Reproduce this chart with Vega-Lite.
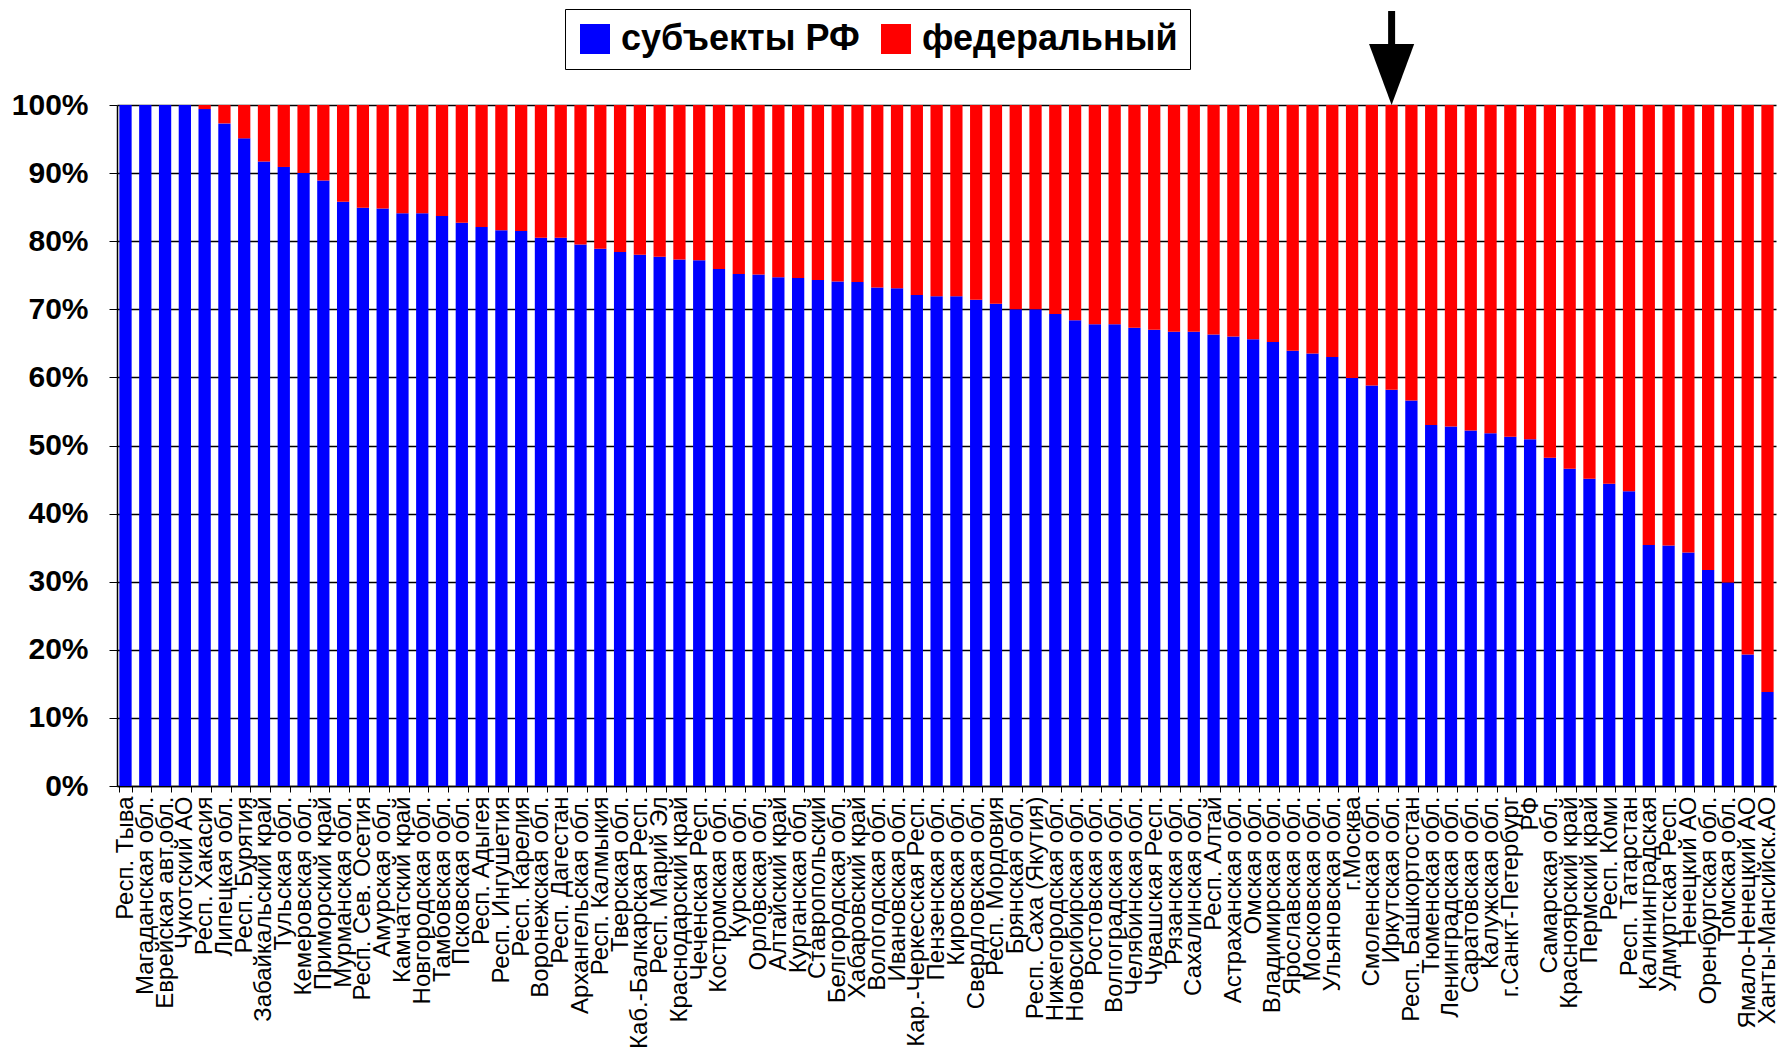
{
  "$schema": "https://vega.github.io/schema/vega-lite/v6.json",
  "width": 1659,
  "height": 681,
  "autosize": {"type": "none"},
  "padding": {"left": 117, "top": 105, "right": 5, "bottom": 276},
  "background": "white",
  "config": {
    "view": {"stroke": null},
    "font": "Liberation Sans"
  },
  "datasets": {
    "regions": [
      {"регион": "Респ. Тыва", "субъекты РФ": 100, "федеральный": 0},
      {"регион": "Магаданская обл.", "субъекты РФ": 100, "федеральный": 0},
      {"регион": "Еврейская авт.обл.", "субъекты РФ": 100, "федеральный": 0},
      {"регион": "Чукотский АО", "субъекты РФ": 100, "федеральный": 0},
      {"регион": "Респ. Хакасия", "субъекты РФ": 99.4, "федеральный": 0.6},
      {"регион": "Липецкая обл.", "субъекты РФ": 97.3, "федеральный": 2.7},
      {"регион": "Респ. Бурятия", "субъекты РФ": 95.1, "федеральный": 4.9},
      {"регион": "Забайкальский край", "субъекты РФ": 91.7, "федеральный": 8.3},
      {"регион": "Тульская обл.", "субъекты РФ": 90.9, "федеральный": 9.1},
      {"регион": "Кемеровская обл.", "субъекты РФ": 90.0, "федеральный": 10.0},
      {"регион": "Приморский край", "субъекты РФ": 88.9, "федеральный": 11.1},
      {"регион": "Мурманская обл.", "субъекты РФ": 85.8, "федеральный": 14.2},
      {"регион": "Респ. Сев. Осетия", "субъекты РФ": 84.9, "федеральный": 15.1},
      {"регион": "Амурская обл.", "субъекты РФ": 84.8, "федеральный": 15.2},
      {"регион": "Камчатский край", "субъекты РФ": 84.1, "федеральный": 15.9},
      {"регион": "Новгородская обл.", "субъекты РФ": 84.1, "федеральный": 15.9},
      {"регион": "Тамбовская обл.", "субъекты РФ": 83.7, "федеральный": 16.3},
      {"регион": "Псковская обл.", "субъекты РФ": 82.7, "федеральный": 17.3},
      {"регион": "Респ. Адыгея", "субъекты РФ": 82.1, "федеральный": 17.9},
      {"регион": "Респ. Ингушетия", "субъекты РФ": 81.6, "федеральный": 18.4},
      {"регион": "Респ. Карелия", "субъекты РФ": 81.5, "федеральный": 18.5},
      {"регион": "Воронежская обл.", "субъекты РФ": 80.5, "федеральный": 19.5},
      {"регион": "Респ. Дагестан", "субъекты РФ": 80.5, "федеральный": 19.5},
      {"регион": "Архангельская обл.", "субъекты РФ": 79.5, "федеральный": 20.5},
      {"регион": "Респ. Калмыкия", "субъекты РФ": 78.9, "федеральный": 21.1},
      {"регион": "Тверская обл.", "субъекты РФ": 78.4, "федеральный": 21.6},
      {"регион": "Каб.-Балкарская Респ.", "субъекты РФ": 78.0, "федеральный": 22.0},
      {"регион": "Респ. Марий Эл", "субъекты РФ": 77.7, "федеральный": 22.3},
      {"регион": "Краснодарский край", "субъекты РФ": 77.3, "федеральный": 22.7},
      {"регион": "Чеченская Респ.", "субъекты РФ": 77.2, "федеральный": 22.8},
      {"регион": "Костромская обл.", "субъекты РФ": 75.9, "федеральный": 24.1},
      {"регион": "Курская обл.", "субъекты РФ": 75.2, "федеральный": 24.8},
      {"регион": "Орловская обл.", "субъекты РФ": 75.1, "федеральный": 24.9},
      {"регион": "Алтайский край", "субъекты РФ": 74.7, "федеральный": 25.3},
      {"регион": "Курганская обл.", "субъекты РФ": 74.6, "федеральный": 25.4},
      {"регион": "Ставропольский", "субъекты РФ": 74.3, "федеральный": 25.7},
      {"регион": "Белгородская обл.", "субъекты РФ": 74.1, "федеральный": 25.9},
      {"регион": "Хабаровский край", "субъекты РФ": 74.0, "федеральный": 26.0},
      {"регион": "Вологодская обл.", "субъекты РФ": 73.2, "федеральный": 26.8},
      {"регион": "Ивановская обл.", "субъекты РФ": 73.1, "федеральный": 26.9},
      {"регион": "Кар.-Черкесская Респ.", "субъекты РФ": 72.1, "федеральный": 27.9},
      {"регион": "Пензенская обл.", "субъекты РФ": 71.9, "федеральный": 28.1},
      {"регион": "Кировская обл.", "субъекты РФ": 71.9, "федеральный": 28.1},
      {"регион": "Свердловская обл.", "субъекты РФ": 71.4, "федеральный": 28.6},
      {"регион": "Респ. Мордовия", "субъекты РФ": 70.8, "федеральный": 29.2},
      {"регион": "Брянская обл.", "субъекты РФ": 70.0, "федеральный": 30.0},
      {"регион": "Респ. Саха (Якутия)", "субъекты РФ": 70.0, "федеральный": 30.0},
      {"регион": "Нижегородская обл.", "субъекты РФ": 69.3, "федеральный": 30.7},
      {"регион": "Новосибирская обл.", "субъекты РФ": 68.4, "федеральный": 31.6},
      {"регион": "Ростовская обл.", "субъекты РФ": 67.8, "федеральный": 32.2},
      {"регион": "Волгоградская обл.", "субъекты РФ": 67.8, "федеральный": 32.2},
      {"регион": "Челябинская обл.", "субъекты РФ": 67.3, "федеральный": 32.7},
      {"регион": "Чувашская Респ.", "субъекты РФ": 67.0, "федеральный": 33.0},
      {"регион": "Рязанская обл.", "субъекты РФ": 66.7, "федеральный": 33.3},
      {"регион": "Сахалинская обл.", "субъекты РФ": 66.7, "федеральный": 33.3},
      {"регион": "Респ. Алтай", "субъекты РФ": 66.3, "федеральный": 33.7},
      {"регион": "Астраханская обл.", "субъекты РФ": 66.0, "федеральный": 34.0},
      {"регион": "Омская обл.", "субъекты РФ": 65.6, "федеральный": 34.4},
      {"регион": "Владимирская обл.", "субъекты РФ": 65.2, "федеральный": 34.8},
      {"регион": "Ярославская обл.", "субъекты РФ": 63.9, "федеральный": 36.1},
      {"регион": "Московская обл.", "субъекты РФ": 63.5, "федеральный": 36.5},
      {"регион": "Ульяновская обл.", "субъекты РФ": 63.0, "федеральный": 37.0},
      {"регион": "г.Москва", "субъекты РФ": 59.9, "федеральный": 40.1},
      {"регион": "Смоленская обл.", "субъекты РФ": 58.8, "федеральный": 41.2},
      {"регион": "Иркутская обл.", "субъекты РФ": 58.2, "федеральный": 41.8},
      {"регион": "Респ. Башкортостан", "субъекты РФ": 56.6, "федеральный": 43.4},
      {"регион": "Тюменская обл.", "субъекты РФ": 53.0, "федеральный": 47.0},
      {"регион": "Ленинградская обл.", "субъекты РФ": 52.8, "федеральный": 47.2},
      {"регион": "Саратовская обл.", "субъекты РФ": 52.2, "федеральный": 47.8},
      {"регион": "Калужская обл.", "субъекты РФ": 51.8, "федеральный": 48.2},
      {"регион": "г.Санкт-Петербург", "субъекты РФ": 51.3, "федеральный": 48.7},
      {"регион": "РФ", "субъекты РФ": 50.9, "федеральный": 49.1},
      {"регион": "Самарская обл.", "субъекты РФ": 48.2, "федеральный": 51.8},
      {"регион": "Красноярский край", "субъекты РФ": 46.6, "федеральный": 53.4},
      {"регион": "Пермский край", "субъекты РФ": 45.1, "федеральный": 54.9},
      {"регион": "Респ. Коми", "субъекты РФ": 44.4, "федеральный": 55.6},
      {"регион": "Респ. Татарстан", "субъекты РФ": 43.3, "федеральный": 56.7},
      {"регион": "Калининградская", "субъекты РФ": 35.4, "федеральный": 64.6},
      {"регион": "Удмуртская Респ.", "субъекты РФ": 35.3, "федеральный": 64.7},
      {"регион": "Ненецкий АО", "субъекты РФ": 34.3, "федеральный": 65.7},
      {"регион": "Оренбургская обл.", "субъекты РФ": 31.7, "федеральный": 68.3},
      {"регион": "Томская обл.", "субъекты РФ": 29.9, "федеральный": 70.1},
      {"регион": "Ямало-Ненецкий АО", "субъекты РФ": 19.3, "федеральный": 80.7},
      {"регион": "Ханты-Мансийск.АО", "субъекты РФ": 13.8, "федеральный": 86.2}
    ],
    "arrow": [
      {"регион": "Иркутская обл.", "верх": 113.8, "низ": 104.5, "острие": 100}
    ]
  },
  "layer": [
    {
      "data": {"name": "regions"},
      "transform": [
        {"fold": ["субъекты РФ", "федеральный"], "as": ["источник", "доля"]}
      ],
      "mark": {"type": "bar"},
      "encoding": {
        "x": {
          "field": "регион",
          "type": "nominal",
          "sort": null,
          "scale": {"paddingInner": 0.38, "paddingOuter": 0.12},
          "axis": {
            "title": null,
            "labelAngle": -90,
            "labelAlign": "right",
            "labelBaseline": "middle",
            "labelFontSize": 24,
            "labelColor": "black",
            "labelPadding": 4,
            "labelOverlap": false,
            "labelLimit": 500,
            "tickBand": "extent",
            "tickSize": 6,
            "tickColor": "black",
            "domainColor": "black",
            "domainWidth": 1.5
          }
        },
        "y": {
          "field": "доля",
          "type": "quantitative",
          "stack": "zero",
          "scale": {"domain": [0, 100], "nice": false},
          "axis": {
            "title": null,
            "values": [0, 10, 20, 30, 40, 50, 60, 70, 80, 90, 100],
            "labelExpr": "datum.value + '%'",
            "labelFontSize": 30,
            "labelFontWeight": "bold",
            "labelColor": "black",
            "labelPadding": 21,
            "tickSize": 8,
            "tickColor": "black",
            "domainColor": "black",
            "domainWidth": 1.5,
            "grid": true,
            "gridColor": "black",
            "gridWidth": 1.3,
            "gridOpacity": 1
          }
        },
        "color": {
          "field": "источник",
          "type": "nominal",
          "scale": {"domain": ["субъекты РФ", "федеральный"], "range": ["#0000FF", "#FF0000"]},
          "legend": {
            "title": null,
            "orient": "none",
            "direction": "horizontal",
            "legendX": 448,
            "legendY": -96,
            "symbolType": "square",
            "symbolSize": 900,
            "symbolStrokeWidth": 0,
            "symbolOpacity": 1,
            "labelFontSize": 36,
            "labelFontWeight": "bold",
            "labelColor": "black",
            "labelLimit": 600,
            "labelOffset": 8,
            "columnPadding": 18,
            "strokeColor": "black",
            "fillColor": "white",
            "padding": 12
          }
        },
        "order": {"field": "источник", "sort": "ascending"}
      }
    },
    {
      "data": {"name": "arrow"},
      "mark": {"type": "rule", "color": "black", "strokeWidth": 7},
      "encoding": {
        "x": {"field": "регион", "type": "nominal", "sort": null},
        "y": {"field": "верх", "type": "quantitative", "scale": {"domain": [0, 100], "nice": false}},
        "y2": {"field": "низ"}
      }
    },
    {
      "data": {"name": "arrow"},
      "mark": {"type": "point", "filled": true, "color": "black", "opacity": 1, "shape": "M-0.74,-2L0.74,-2L0,0Z", "size": 3721},
      "encoding": {
        "x": {"field": "регион", "type": "nominal", "sort": null},
        "y": {"field": "острие", "type": "quantitative", "scale": {"domain": [0, 100], "nice": false}}
      }
    }
  ]
}
